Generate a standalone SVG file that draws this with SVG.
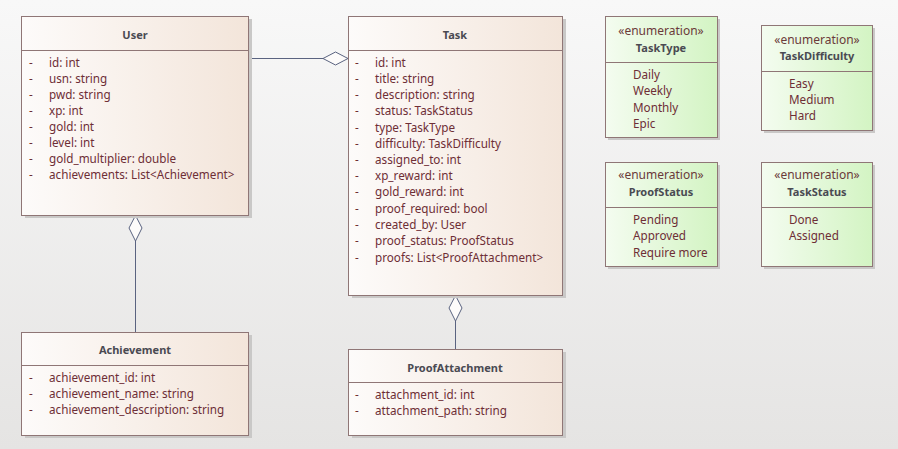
<svg xmlns="http://www.w3.org/2000/svg" width="898" height="449" viewBox="0 0 898 449">
<defs>
<linearGradient id="bg" x1="0" y1="0" x2="0" y2="1"><stop offset="0" stop-color="#f8f8f8"/><stop offset="1" stop-color="#e5e4e3"/></linearGradient>
<linearGradient id="cls" x1="0" y1="0" x2="1" y2="0"><stop offset="0" stop-color="#fdfbfa"/><stop offset="1" stop-color="#f3e5da"/></linearGradient>
<linearGradient id="enm" x1="0" y1="0" x2="1" y2="0"><stop offset="0" stop-color="#f4fcf0"/><stop offset="1" stop-color="#d3f4c3"/></linearGradient>
</defs>
<style>
.sh{fill:#c9c8c7}
.c{fill:url(#cls);stroke:#8f7676;stroke-width:1}
.e{fill:url(#enm);stroke:#8f7676;stroke-width:1}
.dv{stroke:#8f7676;stroke-width:1}
text{font-family:"Noto Sans","Open Sans",sans-serif;font-size:11.7px}
.t{font-weight:bold;font-size:11px;fill:#4a4a52;text-anchor:middle}
.st{fill:#6b3a3a;text-anchor:middle;font-size:12px}
.a{fill:#6e2e36}
.ln{stroke:#5a6380;stroke-width:1;fill:none}
.dm{stroke:#5a6380;stroke-width:1;fill:#fdfbfa}
</style>
<rect width="898" height="449" fill="url(#bg)"/>
<g id="connectors">
<line class="ln" x1="248.5" y1="58.5" x2="323" y2="58.5"/>
<path class="dm" d="M323,58.5 L335.5,52 L348,58.5 L335.5,65 Z"/>
<line class="ln" x1="135.5" y1="241" x2="135.5" y2="332"/>
<path class="dm" d="M135.5,215.5 L142,228 L135.5,241 L129,228 Z"/>
<line class="ln" x1="455.5" y1="321" x2="455.5" y2="349"/>
<path class="dm" d="M455.5,295.5 L462,308 L455.5,321 L449,308 Z"/>
</g>
<g id="User">
<rect class="sh" x="25" y="19" width="227" height="199"/>
<rect class="c" x="21.5" y="16.5" width="227" height="199"/>
<line class="dv" x1="21.5" y1="50.5" x2="248.5" y2="50.5"/>
<text class="t" x="135" y="39">User</text>
<g class="a">
<text x="29" y="67">-</text><text x="49" y="67">id: int</text>
<text x="29" y="83">-</text><text x="49" y="83">usn: string</text>
<text x="29" y="99">-</text><text x="49" y="99">pwd: string</text>
<text x="29" y="115">-</text><text x="49" y="115">xp: int</text>
<text x="29" y="131">-</text><text x="49" y="131">gold: int</text>
<text x="29" y="147">-</text><text x="49" y="147">level: int</text>
<text x="29" y="163">-</text><text x="49" y="163">gold_multiplier: double</text>
<text x="29" y="179">-</text><text x="49" y="179">achievements: List&lt;Achievement&gt;</text>
</g>
</g>
<g id="Task">
<rect class="sh" x="352" y="19" width="214" height="279"/>
<rect class="c" x="348.5" y="16.5" width="214" height="279"/>
<line class="dv" x1="348.5" y1="50.5" x2="562.5" y2="50.5"/>
<text class="t" x="455" y="39">Task</text>
<g class="a">
<text x="355" y="67">-</text><text x="375" y="67">id: int</text>
<text x="355" y="83">-</text><text x="375" y="83">title: string</text>
<text x="355" y="99">-</text><text x="375" y="99">description: string</text>
<text x="355" y="115">-</text><text x="375" y="115">status: TaskStatus</text>
<text x="355" y="132">-</text><text x="375" y="132">type: TaskType</text>
<text x="355" y="148">-</text><text x="375" y="148">difficulty: TaskDifficulty</text>
<text x="355" y="164">-</text><text x="375" y="164">assigned_to: int</text>
<text x="355" y="180">-</text><text x="375" y="180">xp_reward: int</text>
<text x="355" y="196">-</text><text x="375" y="196">gold_reward: int</text>
<text x="355" y="213">-</text><text x="375" y="213">proof_required: bool</text>
<text x="355" y="229">-</text><text x="375" y="229">created_by: User</text>
<text x="355" y="245">-</text><text x="375" y="245">proof_status: ProofStatus</text>
<text x="355" y="262">-</text><text x="375" y="262">proofs: List&lt;ProofAttachment&gt;</text>
</g>
</g>
<g id="Achievement">
<rect class="sh" x="25" y="335" width="227" height="103"/>
<rect class="c" x="21.5" y="332.5" width="227" height="103"/>
<line class="dv" x1="21.5" y1="365.5" x2="248.5" y2="365.5"/>
<text class="t" x="135" y="354">Achievement</text>
<g class="a">
<text x="29" y="382">-</text><text x="49" y="382">achievement_id: int</text>
<text x="29" y="398">-</text><text x="49" y="398">achievement_name: string</text>
<text x="29" y="414">-</text><text x="49" y="414">achievement_description: string</text>
</g>
</g>
<g id="ProofAttachment">
<rect class="sh" x="352" y="352" width="214" height="86"/>
<rect class="c" x="348.5" y="349.5" width="214" height="86"/>
<line class="dv" x1="348.5" y1="382.5" x2="562.5" y2="382.5"/>
<text class="t" x="455" y="372">ProofAttachment</text>
<g class="a">
<text x="355" y="399">-</text><text x="375" y="399">attachment_id: int</text>
<text x="355" y="415">-</text><text x="375" y="415">attachment_path: string</text>
</g>
</g>
<g id="TaskType">
<rect class="sh" x="608" y="19" width="112" height="121"/>
<rect class="e" x="605.5" y="16.5" width="112" height="121"/>
<line class="dv" x1="605.5" y1="62.5" x2="717.5" y2="62.5"/>
<text class="st" x="661" y="35">«enumeration»</text>
<text class="t" x="661" y="52">TaskType</text>
<g class="a">
<text x="633" y="79">Daily</text>
<text x="633" y="95">Weekly</text>
<text x="633" y="112">Monthly</text>
<text x="633" y="128">Epic</text>
</g>
</g>
<g id="TaskDifficulty">
<rect class="sh" x="764" y="28" width="111" height="105"/>
<rect class="e" x="761.5" y="25.5" width="111" height="105"/>
<line class="dv" x1="761.5" y1="71.5" x2="872.5" y2="71.5"/>
<text class="st" x="817" y="44">«enumeration»</text>
<text class="t" x="817" y="60">TaskDifficulty</text>
<g class="a">
<text x="789" y="88">Easy</text>
<text x="789" y="104">Medium</text>
<text x="789" y="120">Hard</text>
</g>
</g>
<g id="ProofStatus">
<rect class="sh" x="608" y="165" width="112" height="104"/>
<rect class="e" x="605.5" y="162.5" width="112" height="104"/>
<line class="dv" x1="605.5" y1="207.5" x2="717.5" y2="207.5"/>
<text class="st" x="661" y="179">«enumeration»</text>
<text class="t" x="661" y="196">ProofStatus</text>
<g class="a">
<text x="633" y="224">Pending</text>
<text x="633" y="240">Approved</text>
<text x="633" y="257">Require more</text>
</g>
</g>
<g id="TaskStatus">
<rect class="sh" x="764" y="165" width="111" height="104"/>
<rect class="e" x="761.5" y="162.5" width="111" height="104"/>
<line class="dv" x1="761.5" y1="207.5" x2="872.5" y2="207.5"/>
<text class="st" x="817" y="179">«enumeration»</text>
<text class="t" x="817" y="196">TaskStatus</text>
<g class="a">
<text x="789" y="224">Done</text>
<text x="789" y="240">Assigned</text>
</g>
</g>
</svg>
